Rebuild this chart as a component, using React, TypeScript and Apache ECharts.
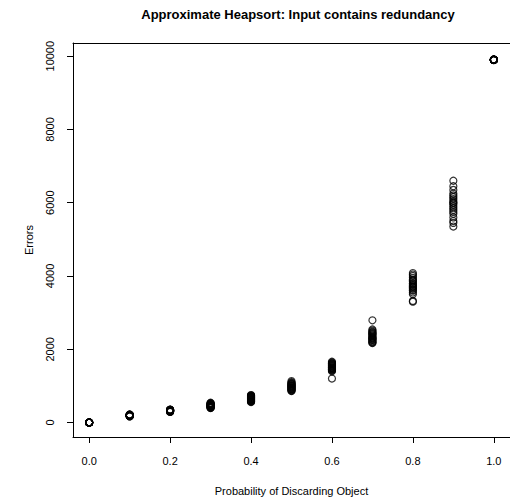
import React, { useEffect, useRef } from "react";
import * as echarts from "echarts";

const chartTitle = "Approximate Heapsort: Input contains redundancy";
const xAxisTitle = "Probability of Discarding Object";
const yAxisTitle = "Errors";

const xTicks = [0, 0.2, 0.4, 0.6, 0.8, 1.0];
const yTicks = [0, 2000, 4000, 6000, 8000, 10000];

const probabilities = [0, 0.1, 0.2, 0.3, 0.4, 0.5, 0.6, 0.7, 0.8, 0.9, 1.0];

const errorsP00 = [0, 0, 0, 0, 0, 0, 0, 0, 0, 0, 0, 0, 0, 0, 0, 0, 0, 0, 0, 0];
const errorsP01 = [185, 200, 172, 210, 195, 168, 220, 190, 205, 178, 198, 215, 182, 193, 207, 175, 202, 188, 212, 196];
const errorsP02 = [320, 345, 300, 330, 312, 355, 290, 338, 325, 305, 348, 318, 332, 298, 342, 310, 328, 350, 315, 335];
const errorsP03 = [450, 480, 410, 520, 395, 470, 500, 430, 540, 460, 415, 490, 445, 510, 425, 475, 400, 530, 455, 485];
const errorsP04 = [640, 700, 580, 740, 620, 680, 560, 720, 660, 600, 750, 630, 690, 570, 710, 650, 610, 730, 670, 590];
const errorsP05 = [950, 1020, 880, 1100, 920, 990, 860, 1060, 970, 900, 1130, 940, 1040, 870, 1080, 1000, 910, 1050, 960, 1010];
const errorsP06 = [1500, 1580, 1420, 1640, 1460, 1550, 1200, 1610, 1480, 1530, 1400, 1660, 1510, 1570, 1440, 1600, 1490, 1540, 1450, 1620];
const errorsP07 = [2300, 2420, 2200, 2510, 2250, 2380, 2790, 2460, 2330, 2180, 2540, 2280, 2400, 2220, 2480, 2350, 2170, 2440, 2310, 2260];
const errorsP08 = [3700, 3850, 3600, 4000, 3750, 3300, 3900, 3650, 4080, 3800, 3550, 3950, 3320, 3720, 3880, 3620, 4040, 3780, 3500, 3680];
const errorsP09 = [6000, 6200, 5800, 6600, 5900, 6100, 5350, 6350, 5700, 6050, 5500, 6250, 5950, 6450, 5600, 6150, 5850, 6000, 5450, 5750];
const errorsP10 = [9900, 9905, 9895, 9910, 9900, 9898, 9903, 9900, 9907, 9896, 9902, 9900, 9904, 9899, 9901, 9906, 9897, 9900, 9903, 9900];

const errorsByProbability = [
  errorsP00, errorsP01, errorsP02, errorsP03, errorsP04, errorsP05,
  errorsP06, errorsP07, errorsP08, errorsP09, errorsP10,
];

const FONT = "Liberation Sans";

export default function App() {
  const ref = useRef<HTMLDivElement>(null);

  useEffect(() => {
    if (!ref.current) return;
    const chart = echarts.init(ref.current, null, { renderer: "svg" });

    const points: number[][] = [];
    probabilities.forEach((p, i) => {
      errorsByProbability[i].forEach((e) => points.push([p, e]));
    });

    chart.setOption({
      animation: false,
      backgroundColor: "#ffffff",
      title: {
        text: chartTitle,
        left: 293,
        top: 3,
        textAlign: "center",
        textStyle: { fontFamily: FONT, fontWeight: "bold", fontSize: 13, color: "#000" },
      },
      grid: {
        left: 73,
        right: -3,
        top: 43,
        bottom: 67,
        show: false,
      },
      xAxis: [
        {
          type: "value",
          position: "bottom",
          min: -0.04,
          max: 1.04,
          name: xAxisTitle,
          nameLocation: "middle",
          nameGap: 48,
          nameTextStyle: { fontFamily: FONT, fontSize: 11, color: "#000" },
          axisLine: { show: true, onZero: false, lineStyle: { color: "#000", width: 1 } },
          axisTick: { show: true, length: 6, customValues: xTicks, lineStyle: { color: "#000" } },
          axisLabel: {
            customValues: xTicks,
            margin: 18,
            fontFamily: FONT,
            fontSize: 11,
            color: "#000",
            formatter: (v: number) => v.toFixed(1),
          },
          splitLine: { show: false },
        },
        {
          type: "value",
          position: "top",
          min: -0.04,
          max: 1.04,
          axisLine: { show: true, onZero: false, lineStyle: { color: "#000", width: 1 } },
          axisTick: { show: false },
          axisLabel: { show: false },
          splitLine: { show: false },
        },
      ],
      yAxis: {
        type: "value",
        min: -395,
        max: 10360,
        name: yAxisTitle,
        nameLocation: "middle",
        nameGap: 39,
        nameRotate: 90,
        nameTextStyle: { fontFamily: FONT, fontSize: 11, color: "#000" },
        axisLine: { show: true, onZero: false, lineStyle: { color: "#000", width: 1 } },
        axisTick: { show: true, length: 6, customValues: yTicks, lineStyle: { color: "#000" } },
        axisLabel: {
          customValues: yTicks,
          rotate: 90,
          margin: 18,
          fontFamily: FONT,
          fontSize: 11,
          color: "#000",
          formatter: (v: number) => String(v),
        },
        splitLine: { show: false },
      },
      series: [
        {
          type: "scatter",
          xAxisIndex: 0,
          data: points,
          symbol: "circle",
          symbolSize: 7,
          itemStyle: { color: "rgba(0,0,0,0)", borderColor: "#000", borderWidth: 1.2 },
          emphasis: { disabled: true },
        },
      ],
    });

    return () => chart.dispose();
  }, []);

  return <div ref={ref} style={{ width: 510, height: 504, position: "absolute", left: 0, top: 0 }} />;
}
